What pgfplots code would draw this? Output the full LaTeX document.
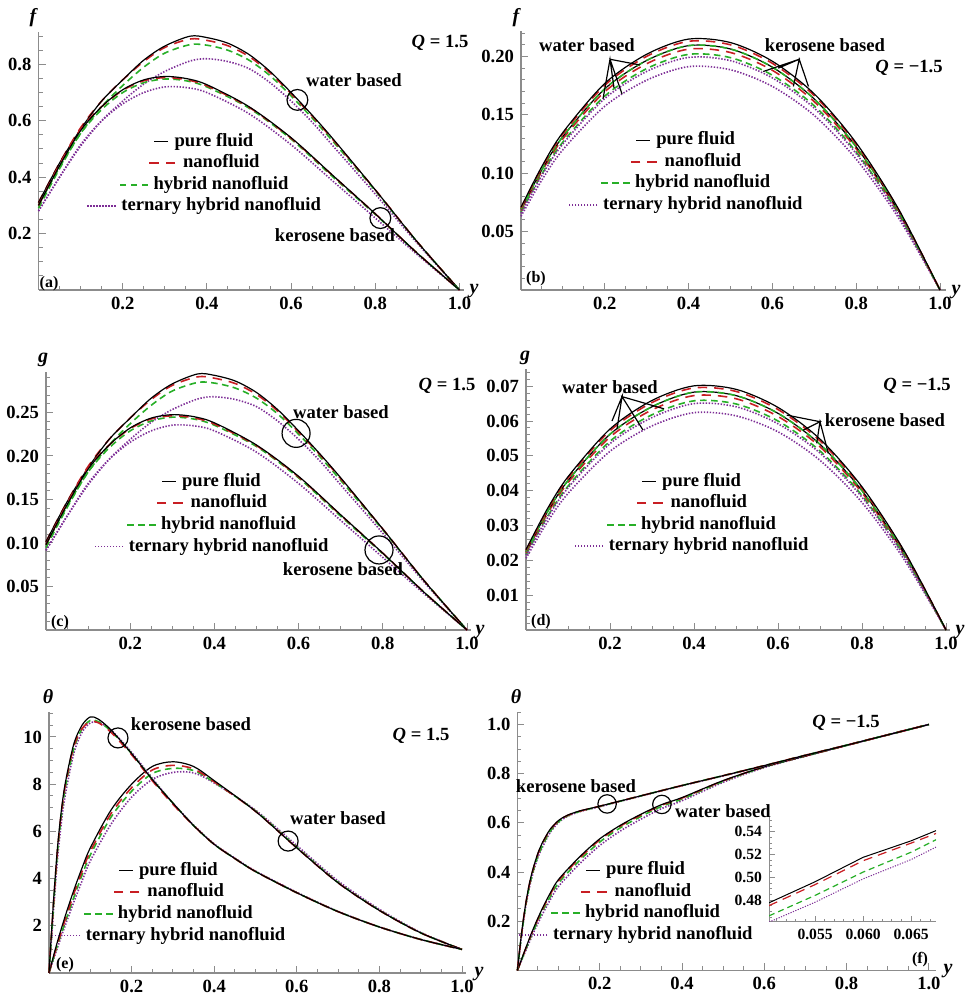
\documentclass[border=0pt]{standalone}
\usepackage{fontspec}
\setmainfont{Liberation Serif}
\usepackage{pgfplots}
\pgfplotsset{compat=1.18}
\usepackage{pgfplotstable}

\definecolor{myred}{RGB}{200,30,35}
\definecolor{mygreen}{RGB}{40,175,40}
\definecolor{mypurple}{RGB}{125,45,150}

\newcommand{\tickfont}{\fontsize{9.3}{11}\selectfont\bfseries}
\newcommand{\legfont}{\fontsize{9.3}{10.85}\selectfont\bfseries}
\newcommand{\insetfont}{\fontsize{7.8}{9}\selectfont\bfseries}
\newcommand{\varfont}{\fontsize{10}{12}\selectfont\bfseries\itshape}

\tikzset{
  purec/.style={color=black, draw=black, line width=0.6pt, solid},
  nanoc/.style={color=myred, draw=myred, line width=0.8pt, dash pattern=on 4.7pt off 3.5pt},
  hybc/.style={color=mygreen, draw=mygreen, line width=0.8pt, dash pattern=on 3.3pt off 2.2pt},
  terc/.style={color=mypurple, draw=mypurple, line width=0.8pt, dash pattern=on 0.7pt off 0.8pt},
  legtxt/.style={anchor=base, inner sep=0pt, font=\legfont, text=black},
}

\pgfplotsset{
  panel/.style={
    axis lines=left,
    axis line style={-, black!45, line width=0.6pt},
    xmin=0, ymin=0,
    anchor=south west,
    clip=false,
    scaled ticks=false,
    tick align=inside,
    major tick length=3.5pt, minor tick length=2pt,
    tick style={black!45, line width=0.5pt},
    tick label style={font=\tickfont},
    /pgf/number format/assume math mode=true,
    xtick={0.2,0.4,0.6,0.8,1.0},
    xticklabels={0.2,0.4,0.6,0.8,1.0},
    minor xtick={0,0.05,...,1.0},
    legend style={draw=none, fill=none, anchor=center,
      nodes={inner sep=0pt}, row sep=1.7pt, column sep=0pt},
  },
  circ/.style={only marks, mark=o, black, mark options={line width=0.6pt, draw=black}, forget plot},
  annot/.style={draw=black, line width=0.6pt, sharp plot, forget plot},
  legpure/.style={legend image code/.code={\node[legtxt] (L) at (5pt,0pt) {\strut pure fluid};
    \draw[purec] ([xshift=-3pt,yshift=2.3pt]L.base west) -- ++(-7pt,0pt);}},
  legnano/.style={legend image code/.code={\node[legtxt] (L) at (8.65pt,0pt) {\strut nanofluid};
    \draw[nanoc, line width=0.95pt] ([xshift=-3.8pt,yshift=2.3pt]L.base west) -- ++(-13.5pt,0pt);}},
  leghyb/.style={legend image code/.code={\node[legtxt] (L) at (8.5pt,0pt) {\strut hybrid nanofluid};
    \draw[hybc, line width=0.95pt] ([xshift=-2.5pt,yshift=2.3pt]L.base west) -- ++(-14.5pt,0pt);}},
  legter/.style={legend image code/.code={\node[legtxt] (L) at (8.6pt,0pt) {\strut ternary hybrid nanofluid};
    \draw[terc, line width=0.9pt] ([xshift=-2.7pt,yshift=2.3pt]L.base west) -- ++(-14.5pt,0pt);}},
}

\newcommand{\fourcurves}[1]{%
  \addplot[terc, smooth, forget plot] table[x=x,y=t]{#1};
  \addplot[hybc, smooth, forget plot] table[x=x,y=h]{#1};
  \addplot[nanoc, smooth, forget plot] table[x=x,y=n]{#1};
  \addplot[purec, smooth, forget plot] table[x=x,y=p]{#1};}

\newcommand{\fourlegend}{%
  \addlegendimage{legpure}\addlegendentry{\hbox{}}
  \addlegendimage{legnano}\addlegendentry{\hbox{}}
  \addlegendimage{leghyb}\addlegendentry{\hbox{}}
  \addlegendimage{legter}\addlegendentry{\hbox{}}}

% ---------- (a) f, Q = 1.5 ----------
\pgfplotstableread{
x p n h t
0 0.31 0.31 0.30 0.28
0.05 0.45 0.45 0.435 0.40
0.1 0.57 0.575 0.555 0.51
0.15 0.67 0.67 0.65 0.60
0.2 0.745 0.745 0.725 0.67
0.25 0.815 0.81 0.79 0.73
0.3 0.865 0.86 0.84 0.775
0.36 0.90 0.89 0.87 0.812
0.4 0.895 0.885 0.868 0.82
0.45 0.875 0.866 0.85 0.81
0.5 0.835 0.828 0.815 0.785
0.55 0.775 0.77 0.76 0.735
0.6 0.70 0.696 0.688 0.67
0.65 0.62 0.617 0.61 0.595
0.7 0.535 0.532 0.526 0.51
0.8 0.355 0.355 0.352 0.34
0.9 0.17 0.17 0.17 0.165
1.0 0 0 0 0
}\tabAW
\pgfplotstableread{
x p n h t
0 0.30 0.30 0.29 0.28
0.05 0.44 0.445 0.43 0.40
0.1 0.565 0.57 0.555 0.515
0.15 0.65 0.65 0.64 0.60
0.2 0.71 0.708 0.70 0.66
0.25 0.745 0.742 0.735 0.70
0.3 0.757 0.753 0.748 0.72
0.35 0.75 0.746 0.742 0.718
0.4 0.728 0.724 0.72 0.70
0.5 0.65 0.648 0.645 0.625
0.6 0.54 0.538 0.535 0.515
0.7 0.405 0.404 0.40 0.385
0.8 0.27 0.27 0.268 0.255
0.9 0.13 0.13 0.13 0.125
1.0 0 0 0 0
}\tabAK

% ---------- (b) f, Q = -1.5 ----------
\pgfplotstableread{
x p n h t
0 0.0710 0.0704 0.0692 0.0658
0.05 0.1060 0.1050 0.1032 0.0983
0.1 0.1350 0.1338 0.1315 0.1251
0.2 0.1770 0.1754 0.1724 0.1641
0.3 0.2020 0.2002 0.1967 0.1873
0.4 0.2150 0.2131 0.2094 0.1993
0.5 0.2120 0.2101 0.2065 0.1965
0.6 0.1960 0.1942 0.1909 0.1817
0.7 0.1680 0.1665 0.1636 0.1557
0.8 0.1260 0.1249 0.1227 0.1168
0.9 0.0700 0.0694 0.0682 0.0649
1.0 0 0 0 0
}\tabBW
\pgfplotstableread{
x p n h t
0 0.0692 0.0682 0.0667 0.0632
0.05 0.1032 0.1018 0.0995 0.0943
0.1 0.1315 0.1296 0.1268 0.1202
0.2 0.1724 0.1699 0.1662 0.1575
0.3 0.1967 0.1939 0.1897 0.1798
0.4 0.2094 0.2064 0.2019 0.1914
0.5 0.2065 0.2035 0.1991 0.1887
0.6 0.1909 0.1882 0.1840 0.1744
0.7 0.1636 0.1613 0.1578 0.1495
0.8 0.1227 0.1210 0.1183 0.1121
0.9 0.0682 0.0672 0.0657 0.0623
1.0 0 0 0 0
}\tabBK

% ---------- (c) g, Q = 1.5 ----------
\pgfplotstableread{
x p n h t
0 0.1014 0.1014 0.0981 0.0916
0.05 0.1472 0.1472 0.1422 0.1308
0.1 0.1864 0.1880 0.1815 0.1668
0.15 0.2191 0.2191 0.2126 0.1962
0.2 0.2436 0.2436 0.2371 0.2191
0.25 0.2665 0.2649 0.2583 0.2387
0.3 0.2829 0.2812 0.2747 0.2534
0.36 0.2943 0.2910 0.2845 0.2655
0.4 0.2927 0.2894 0.2838 0.2681
0.45 0.2861 0.2832 0.2780 0.2649
0.5 0.2730 0.2708 0.2665 0.2567
0.55 0.2534 0.2518 0.2485 0.2403
0.6 0.2289 0.2276 0.2250 0.2191
0.65 0.2027 0.2018 0.1995 0.1946
0.7 0.1749 0.1740 0.1720 0.1668
0.8 0.1161 0.1161 0.1151 0.1112
0.9 0.0556 0.0556 0.0556 0.0540
1.0 0 0 0 0
}\tabCW
\pgfplotstableread{
x p n h t
0 0.0981 0.0981 0.0948 0.0916
0.05 0.1439 0.1455 0.1406 0.1308
0.1 0.1848 0.1864 0.1815 0.1684
0.15 0.2126 0.2126 0.2093 0.1962
0.2 0.2322 0.2315 0.2289 0.2158
0.25 0.2436 0.2426 0.2403 0.2289
0.3 0.2475 0.2462 0.2446 0.2354
0.35 0.2453 0.2439 0.2426 0.2348
0.4 0.2381 0.2367 0.2354 0.2289
0.5 0.2126 0.2119 0.2109 0.2044
0.6 0.1766 0.1759 0.1749 0.1684
0.7 0.1324 0.1321 0.1308 0.1259
0.8 0.0883 0.0883 0.0876 0.0834
0.9 0.0425 0.0425 0.0425 0.0409
1.0 0 0 0 0
}\tabCK

% ---------- (d) g, Q = -1.5 ----------
\pgfplotstableread{
x p n h t
0 0.0231 0.0229 0.0225 0.0215
0.05 0.0346 0.0342 0.0337 0.0320
0.1 0.0440 0.0436 0.0429 0.0408
0.2 0.0577 0.0572 0.0562 0.0535
0.3 0.0659 0.0653 0.0641 0.0610
0.4 0.0701 0.0695 0.0683 0.0650
0.5 0.0691 0.0685 0.0673 0.0641
0.6 0.0639 0.0633 0.0622 0.0592
0.7 0.0548 0.0543 0.0533 0.0508
0.8 0.0411 0.0407 0.0400 0.0381
0.9 0.0228 0.0226 0.0222 0.0212
1.0 0 0 0 0
}\tabDW
\pgfplotstableread{
x p n h t
0 0.0225 0.0222 0.0217 0.0206
0.05 0.0337 0.0332 0.0324 0.0308
0.1 0.0429 0.0423 0.0413 0.0392
0.2 0.0562 0.0554 0.0542 0.0513
0.3 0.0641 0.0632 0.0618 0.0586
0.4 0.0683 0.0673 0.0658 0.0624
0.5 0.0673 0.0664 0.0649 0.0615
0.6 0.0622 0.0613 0.0600 0.0569
0.7 0.0533 0.0526 0.0514 0.0487
0.8 0.0400 0.0394 0.0386 0.0366
0.9 0.0222 0.0219 0.0214 0.0203
1.0 0 0 0 0
}\tabDK

% ---------- (e) theta, Q = 1.5 ----------
\pgfplotstableread{
x p n h t
0 0 0 0 0
0.02 1.3 1.2 1.15 1.05
0.04 2.45 2.3 2.2 2.05
0.06 3.5 3.35 3.2 3.0
0.08 4.45 4.3 4.15 3.9
0.1 5.3 5.15 5.0 4.75
0.15 6.9 6.75 6.6 6.3
0.2 8.0 7.85 7.7 7.45
0.25 8.75 8.6 8.45 8.2
0.3 8.95 8.8 8.67 8.5
0.35 8.75 8.65 8.58 8.48
0.4 8.15 8.1 8.08 8.05
0.5 6.85 6.85 6.87 6.9
0.6 5.3 5.3 5.33 5.4
0.7 3.82 3.82 3.84 3.9
0.8 2.65 2.65 2.66 2.7
0.9 1.7 1.7 1.7 1.72
1.0 1.0 1.0 1.0 1.0
}\tabEW
\pgfplotstableread{
x p n h t
0 0 0 0 0
0.01 2.8 2.7 2.6 2.4
0.02 5.2 5.1 5.0 4.7
0.03 6.9 6.8 6.7 6.4
0.04 8.1 8.0 7.9 7.6
0.06 9.7 9.6 9.5 9.3
0.08 10.5 10.35 10.35 10.2
0.1 10.85 10.65 10.7 10.6
0.12 10.75 10.6 10.65 10.62
0.15 10.3 10.2 10.25 10.3
0.2 9.3 9.25 9.3 9.35
0.25 8.2 8.15 8.2 8.25
0.3 7.2 7.15 7.2 7.2
0.35 6.25 6.25 6.25 6.27
0.4 5.45 5.45 5.45 5.47
0.45 4.85 4.85 4.85 4.87
0.5 4.3 4.3 4.3 4.32
0.6 3.4 3.4 3.4 3.42
0.7 2.6 2.6 2.6 2.61
0.8 1.95 1.95 1.95 1.95
0.9 1.42 1.42 1.42 1.42
1.0 1.0 1.0 1.0 1.0
}\tabEK

% ---------- (f) theta, Q = -1.5 ----------
\pgfplotstableread{
x p n h t
0 0 0 0 0
0.02 0.09 0.088 0.085 0.08
0.04 0.175 0.172 0.166 0.157
0.06 0.25 0.246 0.238 0.226
0.08 0.315 0.31 0.301 0.288
0.1 0.37 0.365 0.356 0.342
0.15 0.46 0.455 0.446 0.432
0.2 0.535 0.531 0.522 0.508
0.25 0.59 0.587 0.58 0.567
0.3 0.635 0.632 0.626 0.615
0.35 0.674 0.672 0.667 0.658
0.4 0.703 0.701 0.697 0.69
0.5 0.772 0.771 0.769 0.765
0.6 0.828 0.828 0.827 0.825
0.7 0.872 0.872 0.872 0.871
0.8 0.915 0.915 0.915 0.915
0.9 0.958 0.958 0.958 0.958
1.0 1 1 1 1
}\tabFW
\pgfplotstableread{
x p n h t
0 0 0 0 0
0.01 0.15 0.148 0.145 0.142
0.02 0.27 0.268 0.262 0.257
0.03 0.36 0.357 0.35 0.344
0.04 0.425 0.422 0.414 0.408
0.05 0.4775 0.475 0.466 0.4605
0.06 0.517 0.5145 0.5045 0.4985
0.07 0.548 0.546 0.538 0.532
0.08 0.575 0.573 0.567 0.562
0.1 0.61 0.609 0.605 0.602
0.12 0.63 0.629 0.627 0.625
0.15 0.648 0.647 0.646 0.645
0.2 0.668 0.668 0.667 0.666
0.3 0.71 0.71 0.71 0.709
0.4 0.752 0.752 0.752 0.751
0.5 0.792 0.792 0.792 0.791
0.6 0.833 0.833 0.833 0.832
0.7 0.875 0.875 0.875 0.875
0.8 0.916 0.916 0.916 0.916
0.9 0.958 0.958 0.958 0.958
1.0 1 1 1 1
}\tabFK
\pgfplotstableread{
x p n h t
0.0502 0.4775 0.475 0.466 0.4605
0.055 0.496 0.4935 0.484 0.478
0.060 0.5175 0.5145 0.5045 0.4985
0.065 0.532 0.530 0.522 0.5155
0.0676 0.541 0.5385 0.533 0.5265
}\tabInset

\begin{document}
\begin{tikzpicture}
\useasboundingbox (0,0) rectangle (483pt,497pt);

% (a)
\begin{axis}[panel, at={(19.25pt,352pt)}, x=210.5pt, y=141pt, xmax=1.01, ymax=0.915,
  ytick={0.2,0.4,0.6,0.8}, yticklabels={0.2,0.4,0.6,0.8},
  minor ytick={0,0.05,...,0.9},
  legend style={at={(0.390,0.456)}}]
\fourcurves{\tabAW}
\fourcurves{\tabAK}
\addplot[circ, mark size=5.2pt] coordinates {(0.615,0.674) (0.812,0.255)};
\fourlegend
\end{axis}

% (b)
\begin{axis}[panel, at={(260.5pt,352pt)}, x=209.5pt, y=583.5pt, xmax=1.015, ymax=0.222,
  ytick={0.05,0.1,0.15,0.2}, yticklabels={0.05,0.10,0.15,0.20},
  minor ytick={0,0.01,...,0.22},
  legend style={at={(0.388,0.459)}}]
\fourcurves{\tabBK}
\fourcurves{\tabBW}
\addplot[annot] coordinates {(0.1957,0.1637) (0.2124,0.1977) (0.222,0.1731) (0.2124,0.1977) (0.241,0.168) (0.2124,0.1977) (0.284,0.1928)};
\addplot[annot] coordinates {(0.578,0.1872) (0.664,0.1977) (0.614,0.1901) (0.664,0.1977) (0.65,0.1744) (0.664,0.1977) (0.686,0.1744)};
\fourlegend
\end{axis}

% (c)
\begin{axis}[panel, at={(23pt,182pt)}, x=210.5pt, y=435pt, xmax=1.01, ymax=0.296,
  ytick={0.05,0.1,0.15,0.2,0.25}, yticklabels={0.05,0.10,0.15,0.20,0.25},
  minor ytick={0,0.01,...,0.29},
  legend style={at={(0.390,0.456)}}]
\fourcurves{\tabCW}
\fourcurves{\tabCK}
\addplot[circ, mark size=7pt] coordinates {(0.594,0.226) (0.791,0.092)};
\fourlegend
\end{axis}

% (d)
\begin{axis}[panel, at={(263pt,182pt)}, x=210pt, y=1741.5pt, xmax=1.01, ymax=0.0748,
  ytick={0.01,0.02,0.03,0.04,0.05,0.06,0.07},
  yticklabels={0.01,0.02,0.03,0.04,0.05,0.06,0.07},
  minor ytick={0,0.002,...,0.074},
  legend style={at={(0.391,0.451)}}]
\fourcurves{\tabDK}
\fourcurves{\tabDW}
\addplot[annot] coordinates {(0.2048,0.0600) (0.2286,0.0670) (0.2167,0.0577) (0.2286,0.0670) (0.2786,0.0574) (0.2286,0.0670) (0.3286,0.0635)};
\addplot[annot] coordinates {(0.6207,0.0617) (0.700,0.0598) (0.6602,0.0574) (0.700,0.0598) (0.6921,0.0536) (0.700,0.0598) (0.7198,0.0507)};
\fourlegend
\end{axis}

% (e)
\begin{axis}[panel, at={(24.5pt,10.5pt)}, x=206.5pt, y=11.8pt, xmax=1.01, ymax=11.05,
  ytick={2,4,6,8,10}, yticklabels={2,4,6,8,10},
  minor ytick={0,0.5,...,11},
  legend style={at={(0.287,0.274)}}]
\fourcurves{\tabEW}
\fourcurves{\tabEK}
\addplot[circ, mark size=5pt] coordinates {(0.167,9.96) (0.579,5.59)};
\fourlegend
\end{axis}

% (f)
\begin{axis}[panel, at={(258.7pt,11.75pt)}, x=205.75pt, y=123pt, xmax=1.018, ymax=1.05,
  ytick={0.2,0.4,0.6,0.8,1.0}, yticklabels={0.2,0.4,0.6,0.8,1.0},
  minor ytick={0,0.05,...,1.05},
  legend style={at={(0.283,0.269)}}]
\fourcurves{\tabFW}
\fourcurves{\tabFK}
\addplot[circ, mark size=4.6pt] coordinates {(0.218,0.677) (0.351,0.675)};
\fourlegend
\end{axis}

% inset of (f)
\begin{axis}[at={(384.5pt,36pt)}, anchor=south west, scale only axis,
  width=83.5pt, height=52.5pt,
  xmin=0.0502, xmax=0.0676, ymin=0.4606, ymax=0.553,
  scaled ticks=false,
  axis lines=left, axis line style={-, black!45, line width=0.5pt},
  tick align=inside, major tick length=3pt, minor tick length=1.5pt,
  tick style={black!45, line width=0.4pt},
  tick label style={font=\insetfont},
  /pgf/number format/assume math mode=true,
  xtick={0.055,0.06,0.065}, xticklabels={0.055,0.060,0.065},
  ytick={0.48,0.5,0.52,0.54}, yticklabels={0.48,0.50,0.52,0.54},
  minor xtick={0.051,0.052,0.053,0.054,0.056,0.057,0.058,0.059,0.061,0.062,0.063,0.064,0.066,0.067},
  minor ytick={0.465,0.47,0.475,0.485,0.49,0.495,0.505,0.51,0.515,0.525,0.53,0.535,0.545,0.55}]
\addplot[draw=mypurple, line width=0.5pt, dash pattern=on 0.6pt off 0.7pt, sharp plot] table[x=x,y=t]{\tabInset};
\addplot[draw=mygreen, line width=0.6pt, dash pattern=on 3pt off 2pt, sharp plot] table[x=x,y=h]{\tabInset};
\addplot[draw=myred, line width=0.6pt, dash pattern=on 4.5pt off 3pt, sharp plot] table[x=x,y=n]{\tabInset};
\addplot[draw=black, line width=0.5pt, solid, sharp plot] table[x=x,y=p]{\tabInset};
\end{axis}

% texts, placed in pixel coordinates of the reference
\begin{scope}[x=0.5pt, y=-0.5pt, yshift=497pt]
\tikzset{every node/.style={font=\legfont, inner sep=0pt}}
% (a)
\node[font=\varfont] at (33,18) {f};
\node[font=\varfont] at (474,291) {y};
\node at (440,43) {\textit{Q} = 1.5};
\node at (354,80) {water based};
\node at (335,235) {kerosene based};
\node[font=\fontsize{8}{9}\selectfont\bfseries] at (49,284) {(a)};
% (b)
\node[font=\varfont] at (516,18) {f};
\node[font=\varfont] at (956,292) {y};
\node at (909,68) {\textit{Q} = −1.5};
\node at (587,45) {water based};
\node at (825,45) {kerosene based};
\node[font=\fontsize{8}{9}\selectfont\bfseries] at (536,279) {(b)};
% (c)
\node[font=\varfont] at (43,360) {g};
\node[font=\varfont] at (480,632) {y};
\node at (447,386) {\textit{Q} = 1.5};
\node at (341,412) {water based};
\node at (343,569) {kerosene based};
\node[font=\fontsize{8}{9}\selectfont\bfseries] at (60,623) {(c)};
% (d)
\node[font=\varfont] at (525,358) {g};
\node[font=\varfont] at (960,632) {y};
\node at (917,386) {\textit{Q} = −1.5};
\node at (610,387) {water based};
\node at (885,420) {kerosene based};
\node[font=\fontsize{8}{9}\selectfont\bfseries] at (541,622) {(d)};
% (e)
\node[font=\varfont] at (48,697) {θ};
\node[font=\varfont] at (479,974) {y};
\node at (421,736) {\textit{Q} = 1.5};
\node at (191,724) {kerosene based};
\node at (338,818) {water based};
\node[font=\fontsize{8}{9}\selectfont\bfseries] at (65,965) {(e)};
% (f)
\node[font=\varfont] at (516,697) {θ};
\node[font=\varfont] at (948,971) {y};
\node at (846,723) {\textit{Q} = −1.5};
\node at (576,786) {kerosene based};
\node at (723,811) {water based};
\node[font=\fontsize{8}{9}\selectfont\bfseries] at (920,960) {(f)};
\end{scope}
\end{tikzpicture}
\end{document}
